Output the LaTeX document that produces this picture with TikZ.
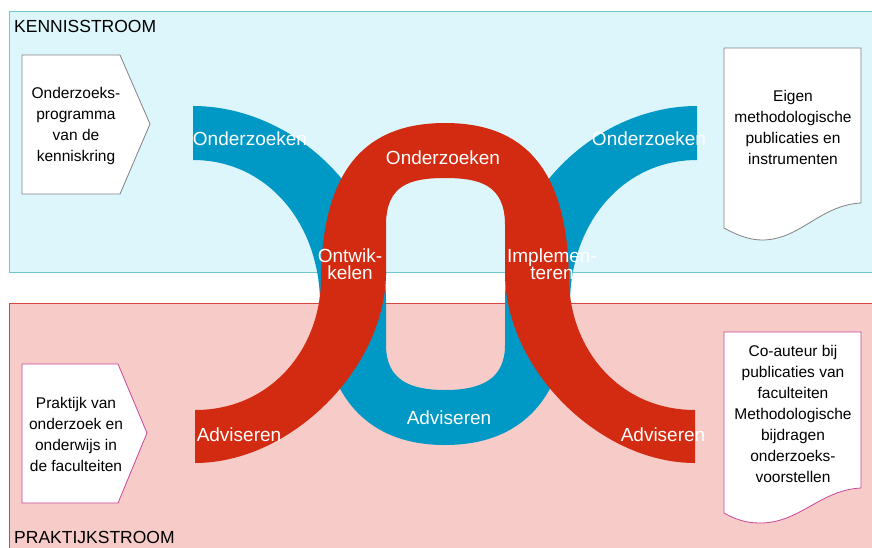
\documentclass[tikz,border=0pt]{standalone}
\usepackage{fontspec}
\setmainfont{Liberation Sans}
\definecolor{bandblue}{RGB}{221,246,251}
\definecolor{bandblueline}{RGB}{110,200,212}
\definecolor{bandpink}{RGB}{247,204,200}
\definecolor{bandpinkline}{RGB}{215,70,60}
\definecolor{flowblue}{RGB}{0,152,197}
\definecolor{flowred}{RGB}{211,43,17}
\definecolor{boxgray}{RGB}{130,130,130}
\definecolor{boxmag}{RGB}{200,70,150}
\tikzset{
  bandlabel/.style={font=\fontsize{17.5}{20}\selectfont, text=black, inner sep=0pt},
  boxtext/.style={font=\fontsize{15.5}{21}\selectfont, align=center, text=black, inner sep=0pt},
  flowlabel/.style={font=\fontsize{19}{17.5}\selectfont, align=center, text=white, inner sep=0pt},
  inbox/.style={fill=white, draw=boxgray, line width=0.8pt},
  outbox/.style={fill=white, draw=boxmag, line width=0.8pt},
}
\begin{document}
\begin{tikzpicture}[x=1pt,y=-1pt]
\useasboundingbox (0,0) rectangle (872,547);
% bands
\fill[white] (0,0) rectangle (872,547);
\draw[fill=bandblue, draw=bandblueline, line width=0.9pt] (9,11) rectangle (880,272);
\draw[fill=bandpink, draw=bandpinkline, line width=0.9pt] (9,303) rectangle (880,560);
% blue U
\fill[flowblue]
  (193,160) .. controls (265,160) and (318,220) .. (320,300)
  .. controls (322,400) and (370,445) .. (445,445)
  .. controls (520,445) and (568,400) .. (570,300)
  .. controls (572,220) and (625,160) .. (697,160)
  -- (697,106)
  .. controls (600,106) and (505,190) .. (505,300)
  -- (505,345)
  .. controls (505,380) and (480,390) .. (445,390)
  .. controls (410,390) and (386,380) .. (386,345)
  -- (386,300)
  .. controls (386,190) and (290,106) .. (193,106)
  -- cycle;
% red arch
\fill[flowred]
  (195,410) .. controls (270,410) and (320,350) .. (321,280)
  .. controls (322,170) and (365,123) .. (445,123)
  .. controls (525,123) and (568,170) .. (569,280)
  .. controls (570,350) and (620,410) .. (695,410)
  -- (695,463)
  .. controls (600,463) and (506,370) .. (505,275)
  -- (505,225)
  .. controls (505,185) and (480,178) .. (445,178)
  .. controls (410,178) and (386,185) .. (386,225)
  -- (386,275)
  .. controls (384,370) and (290,463) .. (195,463)
  -- cycle;
% input boxes
\draw[inbox] (22,55) -- (120,55) -- (150,124) -- (120,194) -- (22,194) -- cycle;
\draw[outbox] (22,364) -- (118,364) -- (147,433) -- (118,503) -- (22,503) -- cycle;
% output documents
\draw[inbox] (724,48) -- (861,48) -- (861,203)
  .. controls (820,205) and (800,240) .. (762,240)
  .. controls (748,240) and (735,234) .. (724,228) -- cycle;
\draw[outbox] (724,332) -- (861,332) -- (861,488)
  .. controls (820,490) and (800,523) .. (760,523)
  .. controls (745,523) and (735,519) .. (724,513) -- cycle;
% labels
\node[bandlabel, anchor=west] (kenn) at (14,26) {KENNISSTROOM};
\node[bandlabel, anchor=west] (prak) at (14,537) {PRAKTIJKSTROOM};
\node[boxtext] (prog) at (76,126) {Onderzoeks-\\programma\\van de\\kenniskring};
\node[boxtext] (prakt) at (76,434) {Praktijk van\\onderzoek en\\onderwijs in\\de faculteiten};
\node[boxtext] (eigen) at (793,127) {Eigen\\methodologische\\publicaties en\\instrumenten};
\node[boxtext] (coaut) at (793,414) {Co-auteur bij\\publicaties van\\faculteiten\\Methodologische\\bijdragen\\onderzoeks-\\voorstellen};
\node[flowlabel] (ondl) at (250,139) {Onderzoeken};
\node[flowlabel] (ondr) at (649,139) {Onderzoeken};
\node[flowlabel] (ondm) at (443,158) {Onderzoeken};
\node[flowlabel] (ontw) at (350,264) {Ontwik-\\kelen};
\node[flowlabel] (impl) at (552,264) {Implemen-\\teren};
\node[flowlabel] (advm) at (449,418) {Adviseren};
\node[flowlabel] (advl) at (239,435) {Adviseren};
\node[flowlabel] (advr) at (663,435) {Adviseren};
\end{tikzpicture}
\end{document}
